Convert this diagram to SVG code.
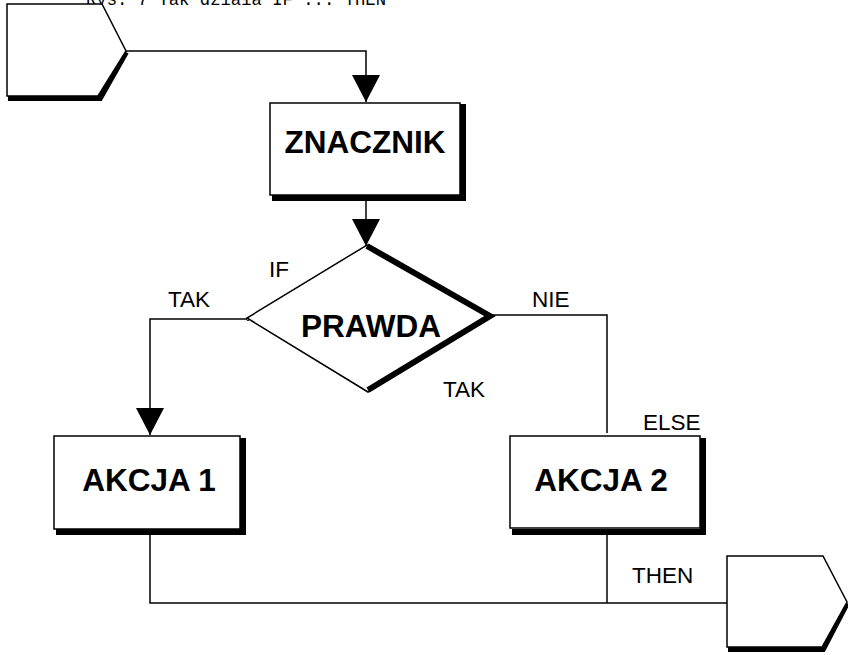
<svg xmlns="http://www.w3.org/2000/svg" width="848" height="655" viewBox="0 0 848 655">
<defs>
<style>
.thin{fill:none;stroke:#000;stroke-width:1.5}
.shape{fill:#fff;stroke:#000;stroke-width:1.5}
.shadow{fill:none;stroke:#000;stroke-width:6;stroke-linejoin:miter}
.big{font-family:"Liberation Sans",Arial,sans-serif;font-weight:bold;font-size:31.5px;text-anchor:middle;fill:#000}
.lbl{font-family:"Liberation Sans",Arial,sans-serif;font-size:22.5px;fill:#000}
.cap{font-family:"Liberation Mono","Courier New",monospace;font-size:19px;fill:#000}
</style>
<marker id="arr" markerUnits="userSpaceOnUse" markerWidth="28" markerHeight="28" viewBox="0 0 28 28" refX="27" refY="14" orient="auto">
<path d="M0,0 L27,14 L0,28 Z" fill="#000"/>
</marker>
</defs>
<rect width="848" height="655" fill="#fff"/>
<text class="cap" x="86" y="5" textLength="300" lengthAdjust="spacingAndGlyphs">Rys. 7 Tak działa IF ... THEN</text>

<g id="connectors">
<path class="thin" d="M126,51 H366 V102" marker-end="url(#arr)"/>
<path class="thin" d="M366,200 V246" marker-end="url(#arr)"/>
<path class="thin" d="M247,319 H150 V435" marker-end="url(#arr)"/>
<circle cx="248" cy="319" r="1.5" fill="#fff" stroke="#000" stroke-width="1"/>
<path class="thin" d="M493,315 H607 V433"/>
<path class="thin" d="M150,535 V603 H727"/>
<path class="thin" d="M607,535 V603"/>
</g>

<g id="start">
<path class="shadow" d="M126,52 L100,98 H8" />
<path class="shape" d="M7,4 H102 L126,51 L98,96 H7 Z"/>
</g>

<g id="znacznik">
<path class="shadow" d="M463,104 V198 H272"/>
<rect class="shape" x="270" y="103" width="190" height="92"/>
<text class="big" x="365" y="153">ZNACZNIK</text>
</g>

<g id="prawda">
<path class="shape" d="M367,245 L493,316 L368,392 L247,318 Z"/>
<path fill="none" stroke="#000" stroke-width="6" stroke-linejoin="miter" d="M367,246 L490,316 L368,390"/>
<text class="big" x="371" y="337">PRAWDA</text>
</g>

<g id="akcja1">
<path class="shadow" d="M243,438 V532 H56"/>
<rect class="shape" x="54" y="436" width="186" height="93"/>
<text class="big" x="149" y="491">AKCJA 1</text>
</g>

<g id="akcja2">
<path class="shadow" d="M703,438 V532 H512"/>
<rect class="shape" x="510" y="436" width="190" height="92"/>
<text class="big" x="601" y="491">AKCJA 2</text>
</g>

<g id="end">
<path class="shadow" d="M847,603 L823,649 H728"/>
<path class="shape" d="M727,556 H823 L847,602 L822,647 H727 Z"/>
</g>

<g id="labels">
<text class="lbl" x="269" y="277">IF</text>
<text class="lbl" x="168" y="307">TAK</text>
<text class="lbl" x="532" y="307">NIE</text>
<text class="lbl" x="443" y="397">TAK</text>
<text class="lbl" x="643" y="430">ELSE</text>
<text class="lbl" x="632" y="583">THEN</text>
</g>
</svg>
